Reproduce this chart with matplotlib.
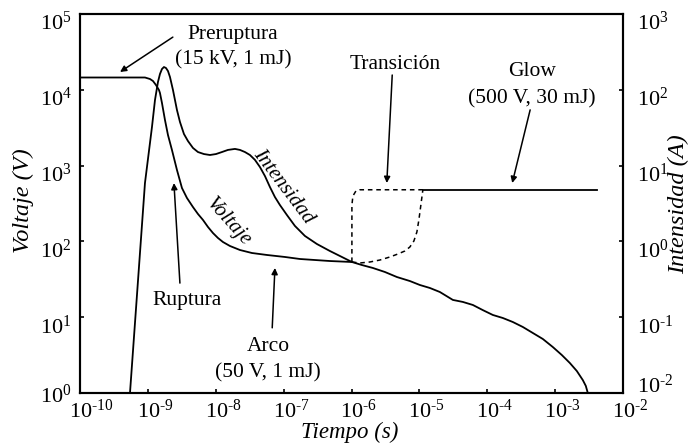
import matplotlib
matplotlib.use("Agg")
import matplotlib.pyplot as plt
from matplotlib.ticker import FixedLocator, FixedFormatter, NullLocator
from matplotlib.transforms import ScaledTranslation

plt.rcParams['font.family'] = ['Liberation Serif', 'DejaVu Serif']
plt.rcParams['mathtext.fontset'] = 'custom'
plt.rcParams['mathtext.rm'] = 'Liberation Serif'
plt.rcParams['mathtext.it'] = 'Liberation Serif:italic'
plt.rcParams['axes.unicode_minus'] = False

# ---- data ----
# Voltage curve (V) vs time (s)
volt_t = [1.0e-10, 3.88e-10, 9.06e-10, 1.074e-9, 1.189e-9, 1.316e-9, 1.457e-9, 1.507e-9,
          1.613e-9, 1.786e-9, 1.977e-9, 2.264e-9, 2.683e-9, 3.178e-9, 3.764e-9, 4.615e-9,
          5.468e-9, 6.480e-9, 7.676e-9, 9.095e-9, 1.077e-8, 1.276e-8, 1.618e-8, 2.272e-8,
          3.413e-8, 5.677e-8, 1.045e-7, 1.738e-7, 4.806e-7, 1.014e-6]
volt_v = [14530, 14530, 14530, 13880, 13060, 11570, 9940, 9075,
          6697, 3996, 2533, 1606, 875, 506, 374, 284,
          230, 192, 155, 129, 111, 98.2, 87.0, 77.0,
          70.3, 66.2, 62.3, 58.6, 55.1, 53.5]

# Transition paths (dashed), V
trans1_t = [1.014e-6, 1.014e-6, 1.049e-6, 1.161e-6, 1.329e-6, 1.126e-5]
trans1_v = [53.5, 302, 397, 462, 480, 480]
trans2_t = [1.014e-6, 1.329e-6, 1.866e-6, 2.620e-6, 3.677e-6, 4.824e-6, 6.116e-6,
            7.246e-6, 8.299e-6, 9.187e-6, 9.831e-6, 1.052e-5, 1.126e-5]
trans2_v = [53.5, 51.9, 53.5, 56.8, 62.3, 68.2, 74.7,
            84.4, 101.2, 133, 192, 302, 480]

# Glow plateau, V
glow_t = [1.126e-5, 4.11e-3]
glow_v = [480, 480]

# Current (A) vs time (s)
curr_t = [5.45e-10, 9.06e-10, 1.149e-9, 1.273e-9, 1.408e-9, 1.507e-9, 1.613e-9, 1.726e-9,
          1.847e-9, 1.977e-9, 2.116e-9, 2.343e-9, 2.683e-9, 2.971e-9, 3.401e-9, 3.895e-9,
          4.615e-9, 5.468e-9, 6.703e-9, 8.215e-9, 1.007e-8, 1.234e-8, 1.512e-8, 1.918e-8,
          2.272e-8, 2.692e-8, 3.189e-8, 3.778e-8, 4.477e-8, 5.304e-8, 6.284e-8, 7.443e-8,
          8.818e-8, 1.118e-7, 1.467e-7, 2.059e-7, 3.092e-7, 4.806e-7, 7.221e-7, 1.014e-6,
          1.422e-6, 2.066e-6, 3.103e-6, 4.662e-6, 7.246e-6, 1.017e-5, 1.427e-5, 2.004e-5,
          3.114e-5, 4.370e-5, 6.135e-5, 8.613e-5, 1.209e-4, 1.697e-4, 2.382e-4, 3.344e-4,
          4.695e-4, 6.589e-4, 9.250e-4, 1.255e-3, 1.646e-3, 2.088e-3, 2.559e-3, 2.832e-3,
          3.031e-3]
curr_a = [0.01, 5.89, 32.3, 73.4, 126.7, 161.6, 188.1, 199.8,
          193.9, 177.0, 147.6, 99.4, 54.1, 37.6, 26.1, 21.1,
          17.1, 15.1, 14.2, 13.8, 14.2, 15.1, 16.1, 16.6,
          16.1, 15.1, 13.8, 11.9, 9.58, 7.29, 5.22, 3.85,
          3.02, 2.23, 1.60, 1.18, 0.924, 0.747, 0.623, 0.535,
          0.488, 0.446, 0.395, 0.339, 0.300, 0.266, 0.243, 0.215,
          0.169, 0.159, 0.145, 0.124, 0.107, 0.0976, 0.0864, 0.0743,
          0.0619, 0.0516, 0.0404, 0.0317, 0.0249, 0.0195, 0.0148, 0.0124,
          0.01]

x_ticks = [1e-10, 1e-9, 1e-8, 1e-7, 1e-6, 1e-5, 1e-4, 1e-3, 1e-2]
x_tick_labels = ['10$^{\\text{-}10}$', '10$^{\\text{-}9}$', '10$^{\\text{-}8}$',
                 '10$^{\\text{-}7}$', '10$^{\\text{-}6}$', '10$^{\\text{-}5}$',
                 '10$^{\\text{-}4}$', '10$^{\\text{-}3}$', '10$^{\\text{-}2}$']
yl_ticks = [1e0, 1e1, 1e2, 1e3, 1e4, 1e5]
yl_tick_labels = ['10$^{0}$', '10$^{1}$', '10$^{2}$', '10$^{3}$', '10$^{4}$', '10$^{5}$']
yr_ticks = [1e-2, 1e-1, 1e0, 1e1, 1e2, 1e3]
yr_tick_labels = ['10$^{\\text{-}2}$', '10$^{\\text{-}1}$', '10$^{0}$', '10$^{1}$',
                  '10$^{2}$', '10$^{3}$']

# ---- figure ----
fig = plt.figure(figsize=(6.91, 4.44), dpi=100)
ax = fig.add_axes([80/691, 1-393/444, 543/691, 379/444])
ax2 = ax.twinx()

lw = 1.3
ax.plot(volt_t, volt_v, color='black', lw=lw)
ax.plot(trans1_t, trans1_v, color='black', lw=1.1, ls=(0, (3, 2.5)))
ax.plot(trans2_t, trans2_v, color='black', lw=1.1, ls=(0, (3, 2.5)))
ax.plot(glow_t, glow_v, color='black', lw=lw)
ax2.plot(curr_t, curr_a, color='black', lw=lw)

for a in (ax, ax2):
    a.set_xscale('log')
    a.set_yscale('log')
    a.set_xlim(1e-10, 1e-2)
ax.set_ylim(1e0, 1e5)
ax2.set_ylim(1e-2, 1e3)

ax.xaxis.set_major_locator(FixedLocator(x_ticks))
ax.xaxis.set_major_formatter(FixedFormatter(x_tick_labels))
ax.xaxis.set_minor_locator(NullLocator())
ax.yaxis.set_major_locator(FixedLocator(yl_ticks))
ax.yaxis.set_major_formatter(FixedFormatter(yl_tick_labels))
ax.yaxis.set_minor_locator(NullLocator())
ax2.yaxis.set_major_locator(FixedLocator(yr_ticks))
ax2.yaxis.set_major_formatter(FixedFormatter(yr_tick_labels))
ax2.yaxis.set_minor_locator(NullLocator())

tick_fs = 16
ax.tick_params(axis='x', which='major', direction='in', length=3, width=1.2,
               labelsize=tick_fs, pad=5)
ax.tick_params(axis='y', which='major', direction='in', length=3, width=1.2,
               labelsize=tick_fs, pad=6)
ax2.tick_params(axis='y', which='major', direction='in', length=3, width=1.2,
                labelsize=tick_fs, pad=10)
for a in (ax, ax2):
    for s in a.spines.values():
        s.set_linewidth(1.5)

# "10" base centred on the tick, superscript to the right
for lbl in ax.get_xticklabels():
    lbl.set_ha('left')
    lbl.set_transform(lbl.get_transform() +
                      ScaledTranslation(-11/100, 0, fig.dpi_scale_trans))
# y labels hang from their tick; the lowest ones are lifted clear of the x labels
for axis_, lift in ((ax, 6), (ax2, 16)):
    lbls = axis_.get_yticklabels()
    for i, lbl in enumerate(lbls):
        lbl.set_va('top')
        dy = 2 + (lift if i == 0 else 0)
        lbl.set_transform(lbl.get_transform() +
                          ScaledTranslation(0, dy/100, fig.dpi_scale_trans))

lab_fs = 17.5
ax.set_xlabel('Tiempo (s)', fontsize=16.5, style='italic')
ax.xaxis.set_label_coords(0.497, -0.104)
ax.set_ylabel('Voltaje (V)', fontsize=lab_fs, style='italic')
ax.yaxis.set_label_coords(-0.105, 0.507)
ax2.set_ylabel('Intensidad (A)', fontsize=lab_fs, style='italic', rotation=90)
ax2.yaxis.set_label_coords(1.102, 0.499)
ax.xaxis.label.set_va('center')
ax.yaxis.label.set_va('center')
ax2.yaxis.label.set_va('center')

# curve labels
ax.text(0.374, 0.544, 'Intensidad', transform=ax.transAxes, fontsize=15,
        style='italic', rotation=-53, ha='center', va='center')
ax.text(0.273, 0.451, 'Voltaje', transform=ax.transAxes, fontsize=15,
        style='italic', rotation=-48, ha='center', va='center')

# annotations
ann_fs = 15.5
arrowprops = dict(arrowstyle='-|>', color='black', lw=1.1, mutation_scale=9,
                  shrinkA=0, shrinkB=0)
ax.text(0.282, 0.912, 'Preruptura\n(15 kV, 1 mJ)', transform=ax.transAxes,
        fontsize=ann_fs, ha='center', va='center', linespacing=1.42)
ax.annotate('', xy=(0.0737, 0.847), xytext=(0.171, 0.939),
            xycoords='axes fraction', textcoords='axes fraction', arrowprops=arrowprops)

ax.text(0.580, 0.868, 'Transición', transform=ax.transAxes,
        fontsize=ann_fs, ha='center', va='center')
ax.annotate('', xy=(0.565, 0.554), xytext=(0.575, 0.839),
            xycoords='axes fraction', textcoords='axes fraction', arrowprops=arrowprops)

ax.text(0.832, 0.812, 'Glow\n(500 V, 30 mJ)', transform=ax.transAxes,
        fontsize=ann_fs, ha='center', va='center', linespacing=1.55)
ax.annotate('', xy=(0.796, 0.554), xytext=(0.829, 0.747),
            xycoords='axes fraction', textcoords='axes fraction', arrowprops=arrowprops)

ax.text(0.197, 0.245, 'Ruptura', transform=ax.transAxes,
        fontsize=ann_fs, ha='center', va='center')
ax.annotate('', xy=(0.173, 0.554), xytext=(0.184, 0.290),
            xycoords='axes fraction', textcoords='axes fraction', arrowprops=arrowprops)

ax.text(0.346, 0.088, 'Arco\n(50 V, 1 mJ)', transform=ax.transAxes,
        fontsize=ann_fs, ha='center', va='center', linespacing=1.5)
ax.annotate('', xy=(0.359, 0.330), xytext=(0.354, 0.172),
            xycoords='axes fraction', textcoords='axes fraction', arrowprops=arrowprops)

fig.savefig('out.png', dpi=100)
